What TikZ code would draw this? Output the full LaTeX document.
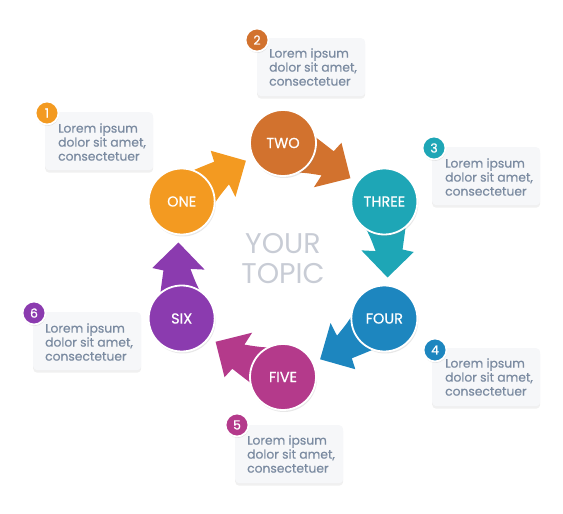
\documentclass[tikz,border=0pt]{standalone}
\usepackage{fontspec}
\setmainfont{Poppins}
\newfontfamily\medfont{Poppins}[FakeBold=0.5]
\usetikzlibrary{shadows}
\definecolor{cOne}{HTML}{F39A21}
\definecolor{cTwo}{HTML}{D2722E}
\definecolor{cThree}{HTML}{1EA6B6}
\definecolor{cFour}{HTML}{1D86BF}
\definecolor{cFive}{HTML}{B43A8B}
\definecolor{cSix}{HTML}{8B3BAF}
\definecolor{txt}{HTML}{7B8BA1}
\definecolor{topic}{HTML}{C8CCD5}
\definecolor{boxfill}{HTML}{F6F7F9}
\begin{document}
\begin{tikzpicture}[x=1pt,y=1pt,
  stepcircle/.style={circle, minimum size=66pt, inner sep=0pt, draw=white, line width=1.8pt, text=white, font=\medfont\fontsize{14.5}{16}\selectfont, drop shadow={opacity=0.18, shadow xshift=1pt, shadow yshift=-2pt}},
  badge/.style={circle, minimum size=23pt, inner sep=0pt, draw=white, line width=1.8pt, text=white, font=\medfont\fontsize{12.5}{13}\selectfont, drop shadow={opacity=0.2, shadow xshift=0.5pt, shadow yshift=-1.5pt}},
  card/.style={rounded corners=4pt, fill=boxfill, minimum width=108pt, minimum height=58pt, anchor=north west, inner sep=0pt, drop shadow={opacity=0.12, shadow xshift=0pt, shadow yshift=-2.5pt}},
  cardtext/.style={anchor=west, align=left, inner sep=0pt, text=txt, font=\medfont\fontsize{12.3}{14}\selectfont},
]
\useasboundingbox (0,0) rectangle (563,514);

% cards
\node[card] (k1) at (45,402) {};
\node[card] (k2) at (257,476) {};
\node[card] (k3) at (432,367) {};
\node[card] (k4) at (432,166) {};
\node[card] (k5) at (235,89) {};
\node[card] (k6) at (33,202) {};
\node[cardtext] (t1) at (58,372) {Lorem ipsum\\dolor sit amet,\\consectetuer};
\node[cardtext] (t2) at (269,447) {Lorem ipsum\\dolor sit amet,\\consectetuer};
\node[cardtext] (t3) at (445,337) {Lorem ipsum\\dolor sit amet,\\consectetuer};
\node[cardtext] (t4) at (445,137) {Lorem ipsum\\dolor sit amet,\\consectetuer};
\node[cardtext] (t5) at (247,60) {Lorem ipsum\\dolor sit amet,\\consectetuer};
\node[cardtext] (t6) at (45,172) {Lorem ipsum\\dolor sit amet,\\consectetuer};

% centre text
\node[align=center, text=topic, inner sep=0pt, font=\fontsize{28.5}{30}\selectfont] (topic) at (283,255) {YOUR\\TOPIC};

\begin{scope}[shift={(283,254)}]
  \foreach \a/\c in {150/cOne,90/cTwo,30/cThree,-30/cFour,-90/cFive,-150/cSix}{
    \fill[\c] ({\a}:146) .. controls ({\a-14}:128) .. ({\a-25}:120)
      -- ({\a-26.5}:131) -- ({\a-39.5}:106) -- ({\a-23}:79) -- ({\a-24.5}:93)
      .. controls ({\a-14}:90) .. ({\a}:88) -- cycle;
  }
  \node[stepcircle, fill=cOne] (one) at (150:117) {ONE};
  \node[stepcircle, fill=cTwo] (two) at (90:117) {TWO};
  \node[stepcircle, fill=cThree] (three) at (30:117) {THREE};
  \node[stepcircle, fill=cFour] (four) at (-30:117) {FOUR};
  \node[stepcircle, fill=cFive] (five) at (-90:117) {FIVE};
  \node[stepcircle, fill=cSix] (six) at (-150:117) {SIX};
\end{scope}

% badges
\node[badge, fill=cOne] (b1) at (47,401) {1};
\node[badge, fill=cTwo] (b2) at (257,474) {2};
\node[badge, fill=cThree] (b3) at (434,366) {3};
\node[badge, fill=cFour] (b4) at (435,164) {4};
\node[badge, fill=cFive] (b5) at (237,89) {5};
\node[badge, fill=cSix] (b6) at (34,201) {6};
\end{tikzpicture}
\end{document}
